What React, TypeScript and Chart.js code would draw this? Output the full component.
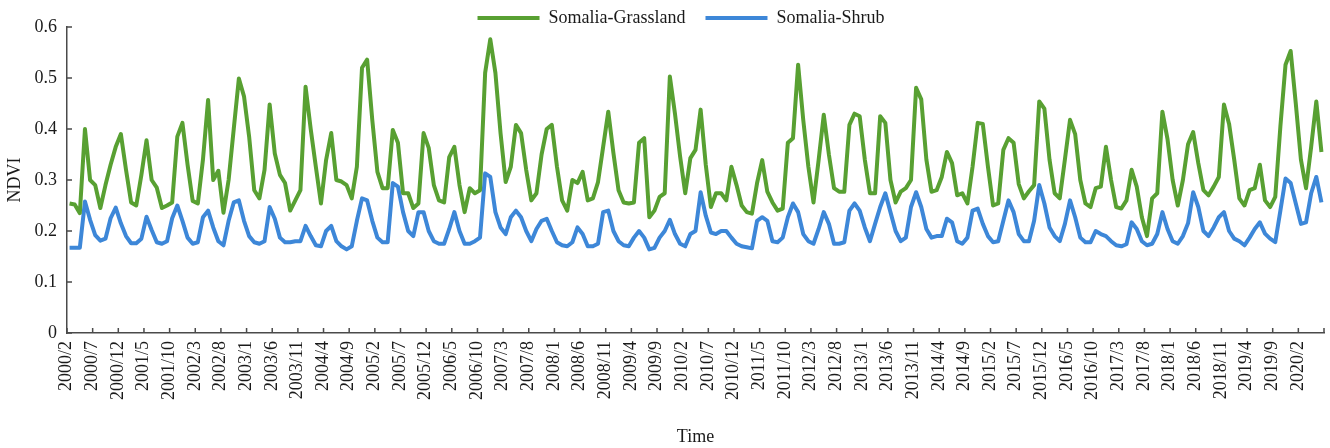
import React, { useEffect, useRef } from 'react';
import { Chart, registerables } from 'chart.js';

Chart.register(...registerables);

// Monthly categories 2000/2 ... 2020/6
const firstYear = 2000;
const firstMonth = 2;
const monthCount = 245;
const categories: string[] = [];
for (let k = 0; k < monthCount; k++) {
  const m = firstMonth - 1 + k;
  categories.push(`${firstYear + Math.floor(m / 12)}/${(m % 12) + 1}`);
}

const grassland: number[] = [
  0.254, 0.252, 0.235, 0.400, 0.300, 0.290, 0.245, 0.290, 0.330, 0.365,
  0.390, 0.320, 0.256, 0.250, 0.310, 0.378, 0.300, 0.285, 0.245, 0.250,
  0.256, 0.385, 0.412, 0.330, 0.259, 0.254, 0.340, 0.457, 0.300, 0.318,
  0.236, 0.300, 0.400, 0.499, 0.464, 0.385, 0.280, 0.264, 0.320, 0.448,
  0.352, 0.310, 0.294, 0.240, 0.260, 0.280, 0.483, 0.400, 0.326, 0.254,
  0.339, 0.392, 0.300, 0.297, 0.290, 0.264, 0.326, 0.520, 0.536, 0.418,
  0.316, 0.284, 0.284, 0.398, 0.373, 0.274, 0.274, 0.245, 0.254, 0.392,
  0.363, 0.290, 0.260, 0.256, 0.345, 0.365, 0.290, 0.237, 0.284, 0.274,
  0.280, 0.510, 0.576, 0.510, 0.392, 0.296, 0.326, 0.408, 0.392, 0.320,
  0.260, 0.274, 0.350, 0.400, 0.408, 0.326, 0.260, 0.240, 0.300, 0.294,
  0.316, 0.260, 0.264, 0.296, 0.365, 0.434, 0.353, 0.280, 0.256, 0.254,
  0.256, 0.373, 0.382, 0.227, 0.240, 0.267, 0.274, 0.503, 0.430, 0.346,
  0.274, 0.343, 0.359, 0.438, 0.330, 0.247, 0.274, 0.274, 0.260, 0.326,
  0.290, 0.250, 0.237, 0.234, 0.294, 0.339, 0.277, 0.256, 0.240, 0.244,
  0.373, 0.382, 0.526, 0.418, 0.326, 0.256, 0.339, 0.428, 0.350, 0.284,
  0.277, 0.277, 0.408, 0.430, 0.425, 0.340, 0.274, 0.274, 0.425, 0.412,
  0.300, 0.256, 0.277, 0.284, 0.300, 0.481, 0.458, 0.340, 0.277, 0.280,
  0.306, 0.355, 0.333, 0.270, 0.274, 0.254, 0.326, 0.412, 0.410, 0.326,
  0.250, 0.254, 0.359, 0.382, 0.373, 0.292, 0.264, 0.278, 0.290, 0.454,
  0.440, 0.340, 0.274, 0.264, 0.340, 0.418, 0.390, 0.300, 0.254, 0.247,
  0.284, 0.287, 0.365, 0.300, 0.247, 0.244, 0.260, 0.320, 0.287, 0.227,
  0.190, 0.264, 0.274, 0.434, 0.380, 0.300, 0.250, 0.300, 0.370, 0.394,
  0.333, 0.280, 0.270, 0.287, 0.306, 0.448, 0.410, 0.340, 0.264, 0.250,
  0.280, 0.284, 0.330, 0.260, 0.247, 0.267, 0.405, 0.526, 0.553, 0.450,
  0.340, 0.284, 0.365, 0.454, 0.355,
];

const shrub: number[] = [
  0.167, 0.167, 0.167, 0.258, 0.222, 0.192, 0.181, 0.185, 0.225, 0.246,
  0.215, 0.190, 0.176, 0.176, 0.185, 0.228, 0.202, 0.178, 0.175, 0.180,
  0.225, 0.250, 0.220, 0.187, 0.175, 0.178, 0.227, 0.240, 0.207, 0.180,
  0.172, 0.220, 0.256, 0.260, 0.220, 0.190, 0.178, 0.175, 0.180, 0.247,
  0.224, 0.187, 0.178, 0.178, 0.180, 0.180, 0.210, 0.190, 0.172, 0.170,
  0.200, 0.210, 0.180, 0.170, 0.164, 0.170, 0.220, 0.264, 0.260, 0.220,
  0.187, 0.178, 0.178, 0.294, 0.287, 0.237, 0.200, 0.190, 0.237, 0.237,
  0.200, 0.180, 0.175, 0.175, 0.204, 0.237, 0.200, 0.175, 0.175, 0.180,
  0.187, 0.313, 0.306, 0.237, 0.207, 0.194, 0.227, 0.240, 0.227, 0.200,
  0.180, 0.204, 0.220, 0.224, 0.200, 0.178, 0.172, 0.170, 0.178, 0.207,
  0.194, 0.170, 0.170, 0.175, 0.237, 0.240, 0.200, 0.180, 0.172, 0.170,
  0.187, 0.200, 0.187, 0.164, 0.167, 0.187, 0.200, 0.222, 0.194, 0.175,
  0.170, 0.194, 0.200, 0.276, 0.230, 0.197, 0.194, 0.200, 0.200, 0.187,
  0.175, 0.170, 0.168, 0.166, 0.220, 0.227, 0.220, 0.180, 0.178, 0.187,
  0.227, 0.254, 0.237, 0.194, 0.180, 0.175, 0.204, 0.237, 0.214, 0.175,
  0.175, 0.178, 0.240, 0.254, 0.240, 0.207, 0.180, 0.214, 0.247, 0.274,
  0.237, 0.200, 0.180, 0.187, 0.247, 0.276, 0.247, 0.204, 0.187, 0.190,
  0.190, 0.224, 0.217, 0.180, 0.175, 0.187, 0.240, 0.244, 0.214, 0.190,
  0.178, 0.180, 0.220, 0.260, 0.237, 0.194, 0.180, 0.180, 0.220, 0.290,
  0.254, 0.207, 0.190, 0.180, 0.214, 0.260, 0.227, 0.187, 0.178, 0.178,
  0.200, 0.194, 0.190, 0.180, 0.172, 0.170, 0.174, 0.217, 0.204, 0.180,
  0.172, 0.175, 0.194, 0.237, 0.204, 0.180, 0.175, 0.190, 0.215, 0.276,
  0.247, 0.200, 0.190, 0.207, 0.227, 0.237, 0.200, 0.185, 0.180, 0.172,
  0.187, 0.204, 0.217, 0.195, 0.185, 0.178, 0.240, 0.303, 0.294, 0.254,
  0.214, 0.217, 0.274, 0.306, 0.256,
];

const seriesNames = ['Somalia-Grassland', 'Somalia-Shrub'];
const seriesColors = ['#58a032', '#3d87d8'];
const yMin = 0;
const yMax = 0.6;
const yStep = 0.1;
const tickEvery = 5;

const axisColor = '#4a4a4a';
const fontFamily = '"Liberation Serif", "Times New Roman", Times, serif';

const inwardTicks = {
  id: 'inwardTicks',
  afterLayout(chart: any) {
    if (chart.legend) {
      chart.legend.left += 19;
      chart.legend.right += 19;
    }
  },
  afterDraw(chart: any) {
    const { ctx, chartArea } = chart;
    const x = chart.scales.x;
    const y = chart.scales.y;
    const half = (x.getPixelForValue(1) - x.getPixelForValue(0)) / 2;
    ctx.save();
    ctx.strokeStyle = axisColor;
    ctx.lineWidth = 1.5;
    ctx.beginPath();
    for (let k = 0; k <= categories.length; k += tickEvery) {
      const px = x.getPixelForValue(k) - half;
      ctx.moveTo(px, chartArea.bottom);
      ctx.lineTo(px, chartArea.bottom - 5);
    }
    y.ticks.forEach((t: any) => {
      const py = y.getPixelForValue(t.value);
      ctx.moveTo(chartArea.left, py);
      ctx.lineTo(chartArea.left + 5, py);
    });
    ctx.stroke();
    ctx.restore();
  },
};

export default function App() {
  const canvasRef = useRef<HTMLCanvasElement | null>(null);

  useEffect(() => {
    if (!canvasRef.current) return;
    Chart.defaults.font.family = fontFamily;
    Chart.defaults.color = '#1a1a1a';
    const chart = new Chart(canvasRef.current, {
      type: 'line',
      data: {
        labels: categories,
        datasets: [grassland, shrub].map((d, i) => ({
          label: seriesNames[i],
          data: d,
          borderColor: seriesColors[i],
          backgroundColor: seriesColors[i],
          borderWidth: 4,
          pointRadius: 0,
          tension: 0,
          fill: false,
          borderJoinStyle: 'round' as const,
        })),
      },
      options: {
        animation: false,
        responsive: false,
        devicePixelRatio: 1,
        layout: { padding: { top: -11, right: 6, left: 0, bottom: 0 } },
        plugins: {
          tooltip: { enabled: false },
          legend: {
            position: 'top',
            align: 'center',
            maxHeight: 38,
            labels: {
              boxWidth: 62,
              boxHeight: 4,
              padding: 20,
              font: { size: 18 },
              color: '#1a1a1a',
              generateLabels: (c: any) =>
                Chart.defaults.plugins.legend.labels
                  .generateLabels(c)
                  .map((l: any) => ({ ...l, lineWidth: 0, fillStyle: l.strokeStyle })),
            },
          },
        },
        scales: {
          x: {
            type: 'category',
            offset: true,
            grid: { display: false, drawTicks: false, tickLength: 0 },
            border: { display: true, color: axisColor, width: 1.5 },
            afterFit: (s: any) => {
              s.height = 115;
              s.paddingRight = 0;
              s.paddingLeft = 0;
            },
            ticks: {
              autoSkip: false,
              maxRotation: 90,
              minRotation: 90,
              padding: 8,
              labelOffset: -3,
              font: { size: 18 },
              callback: (_v: any, index: number) =>
                index % tickEvery === 0 ? categories[index] : '',
            },
            title: {
              display: true,
              text: 'Time',
              font: { size: 18 },
              padding: { top: 0, bottom: 0 },
            },
          },
          y: {
            min: yMin,
            max: yMax,
            grid: { display: false, drawTicks: false, tickLength: 0 },
            border: { display: true, color: axisColor, width: 1.5 },
            afterFit: (s: any) => { s.width = 67; },
            ticks: { stepSize: yStep, padding: 10, font: { size: 18 } },
            title: {
              display: true,
              text: 'NDVI',
              font: { size: 18 },
              padding: { top: 4, bottom: 0 },
            },
          },
        },
      },
      plugins: [inwardTicks],
    });
    return () => chart.destroy();
  }, []);

  return (
    <div style={{ position: 'absolute', left: 0, top: 0, width: 1330, height: 448, background: '#fff' }}>
      <canvas ref={canvasRef} width={1330} height={448} style={{ width: 1330, height: 448 }} />
    </div>
  );
}
